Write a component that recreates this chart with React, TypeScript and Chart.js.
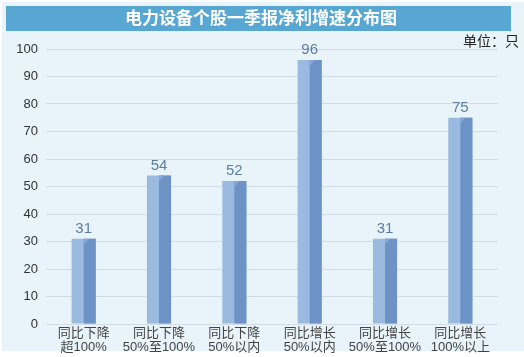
import React, { useEffect, useRef } from "react";
import { Chart, registerables } from "chart.js";

Chart.register(...registerables);

const TITLE = "电力设备个股一季报净利增速分布图";
const UNIT = "单位：只";
const categories: string[][] = [
  ["同比下降", "超100%"],
  ["同比下降", "50%至100%"],
  ["同比下降", "50%以内"],
  ["同比增长", "50%以内"],
  ["同比增长", "50%至100%"],
  ["同比增长", "100%以上"],
];
const counts: number[] = [31, 54, 52, 96, 31, 75];

const FONT = '"Liberation Sans", "Noto Sans CJK SC", sans-serif';

const panelPlugin = {
  id: "panel",
  beforeDraw(chart: any) {
    const ctx = chart.ctx;
    ctx.save();
    ctx.fillStyle = "#ffffff";
    ctx.fillRect(0, 0, chart.width, chart.height);
    ctx.fillStyle = "#E8F3FA";
    ctx.fillRect(2, 2, chart.width - 2, 349);
    ctx.fillStyle = "#58A7D2";
    ctx.fillRect(6, 6, 505, 25);
    ctx.fillStyle = "#ffffff";
    ctx.font = `bold 17px ${FONT}`;
    ctx.textAlign = "center";
    ctx.textBaseline = "middle";
    ctx.fillText(TITLE, 261, 19);
    ctx.fillStyle = "#222222";
    ctx.font = `14px ${FONT}`;
    ctx.textAlign = "right";
    ctx.fillText(UNIT, 519, 42);
    ctx.restore();
  },
};

const bar3dPlugin = {
  id: "bar3d",
  afterDatasetsDraw(chart: any) {
    const ctx = chart.ctx;
    const meta = chart.getDatasetMeta(0);
    const data = chart.data.datasets[0].data as number[];
    ctx.save();
    meta.data.forEach((el: any, i: number) => {
      const { x, y, base, width } = el.getProps(["x", "y", "base", "width"], true);
      const mid = x;
      const right = x + width / 2;
      ctx.fillStyle = "#6D92C6";
      ctx.fillRect(mid, y, right - mid, base - y);
      ctx.fillStyle = "#87A8D4";
      ctx.beginPath();
      ctx.moveTo(mid, y);
      ctx.lineTo(mid + 5, y);
      ctx.lineTo(mid + 1, y + 5);
      ctx.lineTo(mid, y + 5);
      ctx.closePath();
      ctx.fill();
      ctx.fillStyle = "#5C7DA3";
      ctx.font = `15px ${FONT}`;
      ctx.textAlign = "center";
      ctx.textBaseline = "middle";
      ctx.fillText(String(data[i]), x, y - 10);
    });
    ctx.restore();
  },
};

export default function App() {
  const ref = useRef<HTMLCanvasElement | null>(null);
  useEffect(() => {
    document.body.style.margin = "0";
    const canvas = ref.current;
    if (!canvas) return;
    const chart = new Chart(canvas, {
      type: "bar",
      data: {
        labels: categories,
        datasets: [
          {
            data: counts,
            backgroundColor: "#9BBAE0",
            borderWidth: 0,
            barPercentage: 0.32,
            categoryPercentage: 1,
          },
        ],
      },
      options: {
        responsive: false,
        animation: false,
        layout: { padding: { left: 0, right: 26, top: 49, bottom: 0 } },
        plugins: {
          legend: { display: false },
          tooltip: { enabled: false },
          title: { display: false },
        },
        scales: {
          x: {
            grid: { display: false, drawTicks: false },
            border: { display: false },
            ticks: {
              color: "#444444",
              font: { family: FONT, size: 13, lineHeight: "14px" } as any,
              padding: 2,
              maxRotation: 0,
              autoSkip: false,
            },
            afterFit(scale: any) {
              scale.height = 33;
            },
          },
          y: {
            min: 0,
            max: 100,
            grid: { color: "#D2DCE4", lineWidth: 1, drawTicks: false },
            border: { display: false },
            ticks: {
              stepSize: 10,
              color: "#333333",
              font: { family: FONT, size: 13 },
              padding: 8,
            },
            afterFit(scale: any) {
              scale.width = 46;
            },
          },
        },
      },
      plugins: [panelPlugin, bar3dPlugin],
    });
    return () => chart.destroy();
  }, []);
  return (
    <div style={{ width: 524, height: 357 }}>
      <canvas ref={ref} width={524} height={357} />
    </div>
  );
}
